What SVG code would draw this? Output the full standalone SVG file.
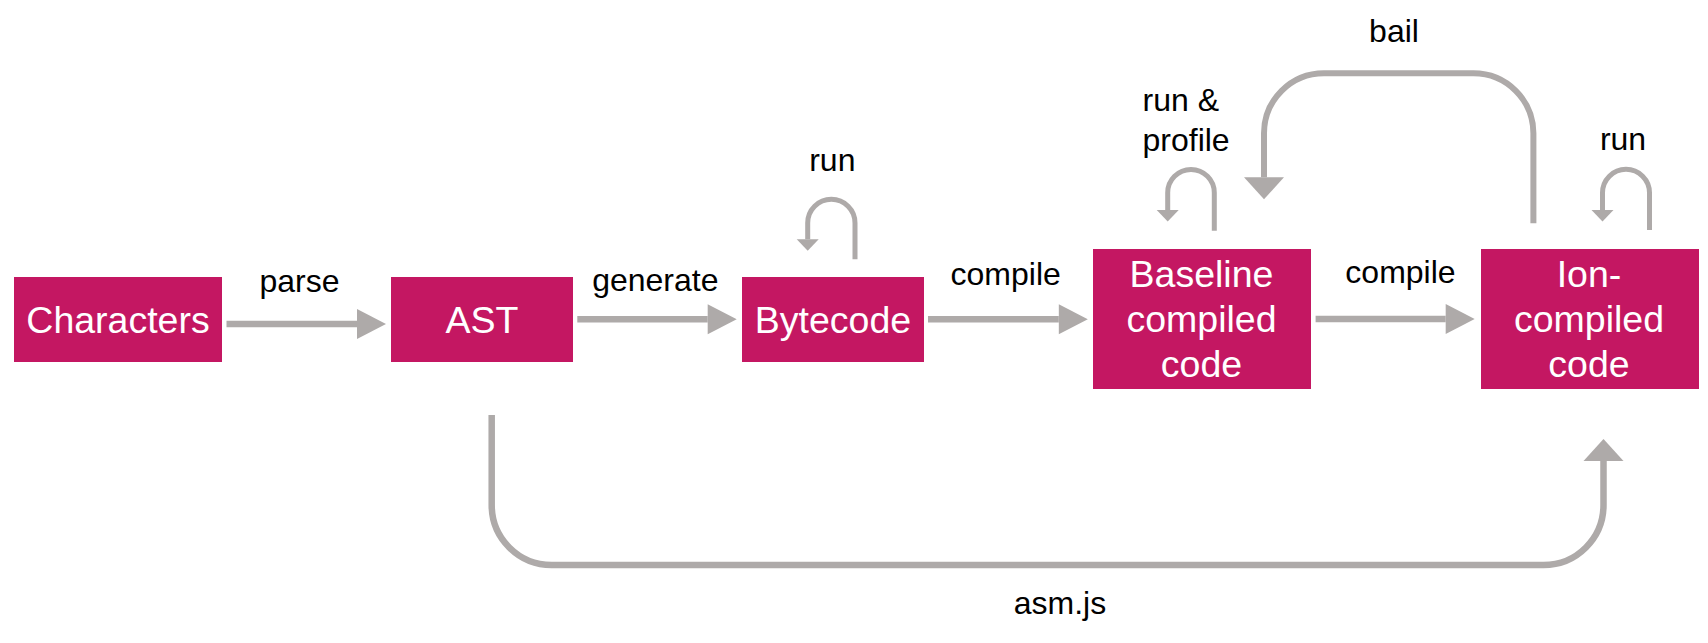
<svg xmlns="http://www.w3.org/2000/svg" width="1708" height="643" viewBox="0 0 1708 643">
<style>
.box{fill:#C41762}
.bt{font-family:"Liberation Sans",Arial,sans-serif;font-size:37.5px;fill:#ffffff;text-anchor:middle}
.lbl{font-family:"Liberation Sans",Arial,sans-serif;font-size:32px;fill:#000000;text-anchor:middle}
.c{fill:none;stroke:#AEAAA9;stroke-width:6.5}
.loop{fill:none;stroke:#AEAAA9;stroke-width:5}
</style>
<defs>
<marker id="hBig" markerUnits="userSpaceOnUse" orient="auto" refX="0" refY="0" markerWidth="40" markerHeight="40" viewBox="0 -20 30 40" overflow="visible"><path d="M0,-15 L29,0 L0,15 z" fill="#AEAAA9"/></marker>
<marker id="hMid" markerUnits="userSpaceOnUse" orient="auto" refX="0" refY="0" markerWidth="40" markerHeight="50" viewBox="0 -25 25 50" overflow="visible"><path d="M0,-20 L22,0 L0,20 z" fill="#AEAAA9"/></marker>
<marker id="hSmall" markerUnits="userSpaceOnUse" orient="auto" refX="0" refY="0" markerWidth="20" markerHeight="30" viewBox="0 -15 15 30" overflow="visible"><path d="M0,-11 L11.4,0 L0,11 z" fill="#AEAAA9"/></marker>
</defs>
<rect width="1708" height="643" fill="#ffffff"/>
<g id="connectors">
<path class="c" d="M226.5,324 H357" marker-end="url(#hBig)"/>
<path class="c" d="M577.3,319.3 H707.7" marker-end="url(#hBig)"/>
<path class="c" d="M928,319.3 H1058.8" marker-end="url(#hBig)"/>
<path class="c" d="M1315.6,319 H1445.7" marker-end="url(#hBig)"/>
<path class="loop" d="M855,259.3 V223 A23.65,23.65 0 0 0 807.7,223 V239.3" marker-end="url(#hSmall)"/>
<path class="loop" d="M1214.3,230.7 V192.8 A23.3,23.3 0 0 0 1167.7,192.8 V210" marker-end="url(#hSmall)"/>
<path class="loop" d="M1649.5,230 V192.8 A23.5,23.5 0 0 0 1602.5,192.8 V210" marker-end="url(#hSmall)"/>
<path class="c" style="stroke-width:6" d="M1533.4,223.3 V133.3 A60,60 0 0 0 1473.4,73.3 H1324 A60,60 0 0 0 1264,133.3 V177.3" marker-end="url(#hMid)"/>
<path class="c" d="M491.7,415 V505 A60,60 0 0 0 551.7,565 H1543.5 A60,60 0 0 0 1603.5,505 V461" marker-end="url(#hMid)"/>
</g>
<g id="labels">
<text class="lbl" x="299.5" y="291.7">parse</text>
<text class="lbl" x="655.3" y="290.7">generate</text>
<text class="lbl" x="1005.7" y="285">compile</text>
<text class="lbl" x="1400.5" y="283.3">compile</text>
<text class="lbl" x="832.3" y="170.7">run</text>
<text class="lbl" x="1142.5" y="110.7" style="text-anchor:start">run &amp;</text>
<text class="lbl" x="1142.5" y="150.5" style="text-anchor:start">profile</text>
<text class="lbl" x="1623" y="149.5">run</text>
<text class="lbl" x="1394" y="42.3">bail</text>
<text class="lbl" x="1060" y="614">asm.js</text>
</g>
<g id="characters">
<rect class="box" x="14" y="277" width="208" height="85"/>
<text class="bt" x="118" y="332.7">Characters</text>
</g>
<g id="ast">
<rect class="box" x="391" y="277" width="182" height="85"/>
<text class="bt" x="482" y="332.7">AST</text>
</g>
<g id="bytecode">
<rect class="box" x="742" y="277" width="182" height="85"/>
<text class="bt" x="833" y="332.7">Bytecode</text>
</g>
<g id="baseline">
<rect class="box" x="1093" y="249" width="218" height="140"/>
<text class="bt" x="1201.5" y="287.3">Baseline</text>
<text class="bt" x="1201.5" y="332.3">compiled</text>
<text class="bt" x="1201.5" y="376.7">code</text>
</g>
<g id="ion">
<rect class="box" x="1481" y="249" width="218" height="140"/>
<text class="bt" x="1589" y="287.3">Ion-</text>
<text class="bt" x="1589" y="332.3">compiled</text>
<text class="bt" x="1589" y="376.7">code</text>
</g>
</svg>
